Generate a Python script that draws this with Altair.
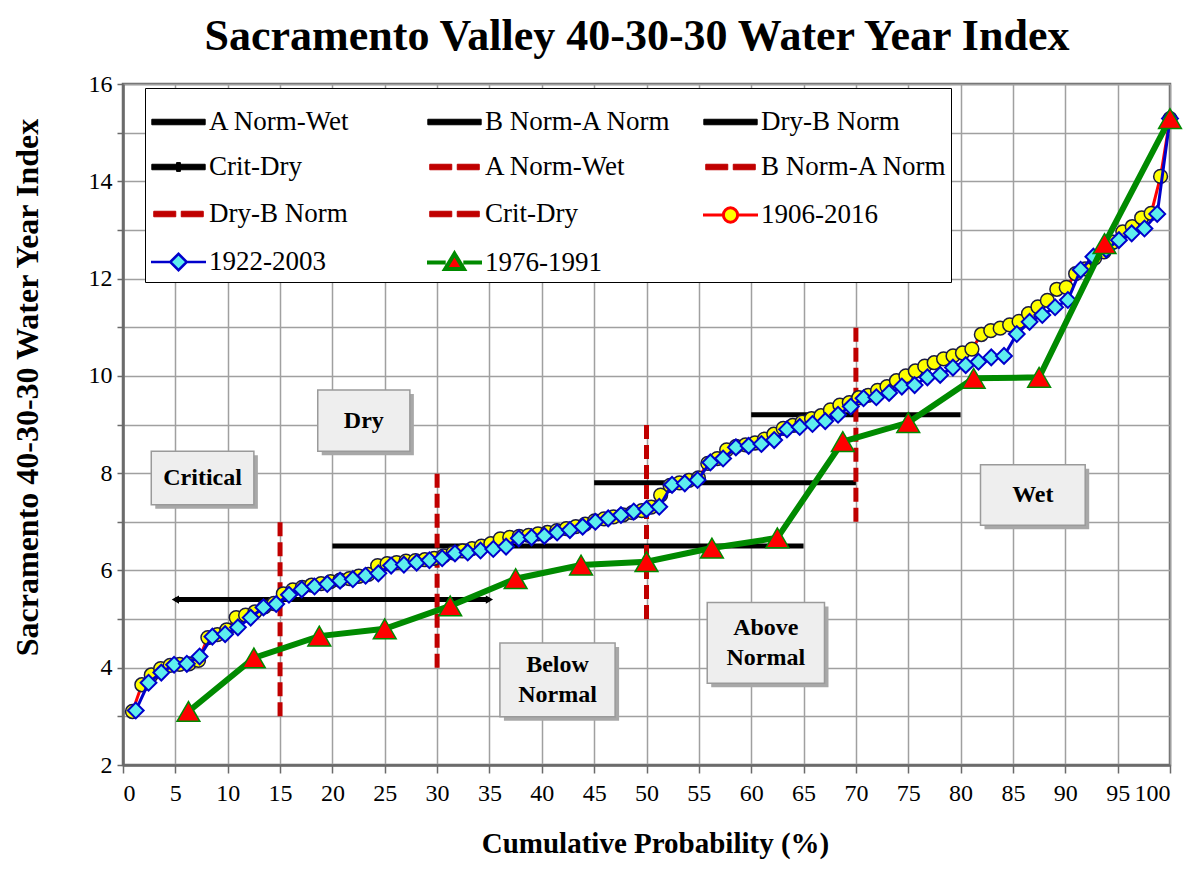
import altair as alt
import pandas as pd

# ---------------- data ----------------
chart_title = "Sacramento Valley 40-30-30 Water Year Index"
x_title = "Cumulative Probability (%)"
y_title = "Sacramento 40-30-30 Water Year Index"

# sorted Sacramento Valley index values
wyi_1906_2016 = [
    3.1, 3.65, 3.85, 3.98, 4.05, 4.07, 4.08, 4.15, 4.62, 4.68,
    4.78, 5.03, 5.08, 5.15, 5.25, 5.32, 5.52, 5.6, 5.65, 5.7,
    5.73, 5.77, 5.8, 5.83, 5.88, 5.92, 6.1, 6.14, 6.16, 6.19,
    6.2, 6.22, 6.25, 6.3, 6.36, 6.4, 6.45, 6.5, 6.55, 6.65,
    6.68, 6.7, 6.72, 6.75, 6.78, 6.82, 6.86, 6.9, 6.95, 7.02,
    7.06, 7.1, 7.14, 7.19, 7.23, 7.3, 7.55, 7.75, 7.8, 7.85,
    7.9, 8.2, 8.3, 8.48, 8.55, 8.58, 8.62, 8.7, 8.8, 8.92,
    8.98, 9.05, 9.12, 9.18, 9.3, 9.4, 9.45, 9.55, 9.6, 9.7,
    9.78, 9.9, 10.0, 10.1, 10.2, 10.27, 10.35, 10.41, 10.47, 10.55,
    10.85, 10.93, 10.98, 11.05, 11.12, 11.28, 11.42, 11.55, 11.78, 11.82,
    12.1, 12.2, 12.42, 12.55, 12.75, 12.96, 13.07, 13.25, 13.34, 14.1,
    15.29,
]
wyi_1922_2003 = [
    3.12, 3.69, 3.9, 4.06, 4.08, 4.23, 4.64, 4.69, 4.83, 5.03,
    5.24, 5.31, 5.5, 5.61, 5.67, 5.72, 5.79, 5.82, 5.89, 5.94,
    6.1, 6.12, 6.16, 6.21, 6.25, 6.35, 6.37, 6.41, 6.44, 6.49,
    6.66, 6.68, 6.71, 6.78, 6.83, 6.9, 7.0, 7.07, 7.14, 7.21,
    7.26, 7.31, 7.76, 7.79, 7.86, 8.22, 8.3, 8.53, 8.56, 8.6,
    8.68, 8.9, 8.95, 9.01, 9.07, 9.2, 9.37, 9.54, 9.56, 9.65,
    9.78, 9.81, 9.97, 10.02, 10.17, 10.22, 10.29, 10.38, 10.41, 10.86,
    11.11, 11.25, 11.41, 11.56, 12.18, 12.45, 12.6, 12.79, 12.93, 13.03,
    13.33, 15.29,
]
wyi_1976_1991 = [3.1, 4.2, 4.65, 4.8, 5.27, 5.83, 6.11, 6.18, 6.46, 6.67,
                 8.65, 9.04, 9.95, 9.97, 12.72, 15.29]

# year-type thresholds of the index (black lines)
thr_names = ["A Norm-Wet", "B Norm-A Norm", "Dry-B Norm", "Crit-Dry"]
thr_index = [9.2, 7.8, 6.5, 5.4]
thr_x_from = [60, 45, 20, 5]
thr_x_to = [80, 70, 65, 35]

# probability thresholds (red dashed lines)
prob_x = [70, 50, 30, 15]
prob_y_from = [7, 5, 4, 3]
prob_y_to = [11, 9, 8, 7]

# year-type zone labels
zone_names = ["Critical", "Dry", "Below\nNormal", "Above\nNormal", "Wet"]
zone_x = [7.6, 23.0, 41.5, 61.4, 86.9]
zone_y = [7.9, 9.08, 3.75, 4.51, 7.55]

series_names = ["1906-2016", "1922-2003", "1976-1991"]

# ---------------- styling ----------------
FONT = "Liberation Serif"
DARK_RED = "#C00000"
YELLOW = "#FFFF00"
CYAN = "#5EEEEE"
BLUE = "#0000CC"
GREEN = "#008A00"
RED = "#FF0000"

# half sizes of the zone boxes (x in %, y in index units)
box_half_w = [4.9, 4.4, 5.5, 5.6, 5.0]
box_half_h = [0.55, 0.63, 0.76, 0.83, 0.62]


def ranked(values, name):
    n = len(values)
    return pd.DataFrame({"x": [100.0 * (i + 1) / n for i in range(n)],
                         "y": values, "series": name})


d1906 = ranked(wyi_1906_2016, series_names[0])
d1922 = ranked(wyi_1922_2003, series_names[1])
d1976 = ranked(wyi_1976_1991, series_names[2])

thr_df = pd.DataFrame({"name": thr_names, "y": thr_index,
                       "x": thr_x_from, "x2": thr_x_to})
arrow_l = pd.DataFrame({"x": [thr_x_from[3]], "y": [thr_index[3]]})
arrow_r = pd.DataFrame({"x": [thr_x_to[3]], "y": [thr_index[3]]})
prob_df = pd.DataFrame({"name": thr_names, "x": prob_x,
                        "y": prob_y_from, "y2": prob_y_to})
zone_df = pd.DataFrame({"label": zone_names, "x": zone_x, "y": zone_y})
zone_df["bx"] = [c - h for c, h in zip(zone_x, box_half_w)]
zone_df["bx2"] = [c + h for c, h in zip(zone_x, box_half_w)]
zone_df["by"] = [c - h for c, h in zip(zone_y, box_half_h)]
zone_df["by2"] = [c + h for c, h in zip(zone_y, box_half_h)]
zone_df["lines"] = [len(s.split("\n")) for s in zone_names]

xscale = alt.Scale(domain=[0, 100], nice=False, zero=False)
yscale = alt.Scale(domain=[2, 16], nice=False, zero=False)

x_axis = alt.Axis(values=list(range(0, 101, 5)), title=x_title,
                  titleX=532, titleY=78, titleAlign="center",
                  titleBaseline="middle", labelPadding=8, tickSize=8,
                  titleFontSize=29)
y_axis = alt.Axis(values=list(range(2, 17)), title=y_title,
                  labelExpr="datum.value % 2 == 0 ? datum.label : ''",
                  titleX=-96, titleY=303, titleAngle=270, titleAlign="center",
                  titleBaseline="middle", tickSize=6, labelPadding=5,
                  titleFontSize=32)


def X(field="x"):
    return alt.X(f"{field}:Q", scale=xscale, axis=x_axis)


def Y(field="y"):
    return alt.Y(f"{field}:Q", scale=yscale, axis=y_axis)


# chart title (text placed above the plot area)
title_layer = alt.Chart(pd.DataFrame({"t": [chart_title]})).mark_text(
    font=FONT, fontSize=44, fontWeight="bold", color="black",
    align="center", baseline="alphabetic"
).encode(x=alt.value(514), y=alt.value(-34), text="t:N")

# zone boxes
box_shadow = alt.Chart(zone_df).mark_rect(
    fill="#A8A8A8", xOffset=4, x2Offset=4, yOffset=4, y2Offset=4
).encode(x=X("bx"), x2="bx2", y=Y("by"), y2="by2")
boxes = alt.Chart(zone_df).mark_rect(
    fill="#EEEEEE", stroke="#9A9A9A", strokeWidth=1.5
).encode(x=X("bx"), x2="bx2", y=Y("by"), y2="by2")
box_text_1 = alt.Chart(zone_df).transform_filter("datum.lines == 1").mark_text(
    font=FONT, fontSize=24, fontWeight="bold", color="black", baseline="middle"
).encode(x=X(), y=Y(), text="label:N")
box_text_2 = alt.Chart(zone_df).transform_filter("datum.lines == 2").mark_text(
    font=FONT, fontSize=24, fontWeight="bold", color="black", baseline="middle",
    lineBreak="\n", lineHeight=30, dy=-15
).encode(x=X(), y=Y(), text="label:N")

# threshold lines
thr_lines = alt.Chart(thr_df).mark_rule(
    color="black", strokeWidth=5
).encode(x=X(), x2="x2", y=Y())
arrow_left = alt.Chart(arrow_l).mark_point(
    shape="triangle-left", filled=True, color="black", size=70, opacity=1
).encode(x=X(), y=Y())
arrow_right = alt.Chart(arrow_r).mark_point(
    shape="triangle-right", filled=True, color="black", size=70, opacity=1
).encode(x=X(), y=Y())
prob_lines = alt.Chart(prob_df).mark_rule(
    color=DARK_RED, strokeWidth=5, strokeDash=[14, 6]
).encode(x=X(), y=Y(), y2="y2")

# series
l1906 = alt.Chart(d1906).mark_line(color=RED, strokeWidth=3).encode(x=X(), y=Y(), order="x:Q")
p1906 = alt.Chart(d1906).mark_point(
    shape="circle", filled=True, fill=YELLOW, stroke="#1A1A40",
    strokeWidth=1.5, size=190, opacity=1
).encode(x=X(), y=Y())
l1922 = alt.Chart(d1922).mark_line(color=BLUE, strokeWidth=3).encode(x=X(), y=Y(), order="x:Q")
p1922 = alt.Chart(d1922).mark_point(
    shape="diamond", filled=True, fill=CYAN, stroke=BLUE,
    strokeWidth=2, size=250, opacity=1
).encode(x=X(), y=Y())
l1976 = alt.Chart(d1976).mark_line(color=GREEN, strokeWidth=6).encode(x=X(), y=Y(), order="x:Q")
p1976 = alt.Chart(d1976).mark_point(
    shape="triangle-up", filled=True, fill=RED, stroke=GREEN,
    strokeWidth=1.5, size=520, opacity=1
).encode(x=X(), y=Y())

# legend (built from a layer whose rows have no position)
legend_keys = [n for n in thr_names] + [n + " " for n in thr_names] + series_names
BLACK_P = "M-0.97,-0.1L0.97,-0.1L0.97,0.1L-0.97,0.1Z"
CRIT_P = BLACK_P + "M-0.07,-0.16L0.07,-0.16L0.07,0.16L-0.07,0.16Z"
DASH_P = "M-0.9,-0.1L-0.1,-0.1L-0.1,0.1L-0.9,0.1Z M0.1,-0.1L0.9,-0.1L0.9,0.1L0.1,0.1Z"
CIRC_P = "M-1,0L-0.26,0M0.26,0L1,0M-0.26,0A0.26,0.26 0 1,1 0.26,0A0.26,0.26 0 1,1 -0.26,0Z"
DIAM_P = "M-1,0L-0.3,0M0.3,0L1,0M-0.3,0L0,-0.3L0.3,0L0,0.3Z"
TRI_P = "M-1,0L-0.32,0M0.32,0L1,0M0,-0.32L0.34,0.24L-0.34,0.24Z"
leg_shapes = [BLACK_P, BLACK_P, BLACK_P, CRIT_P, DASH_P, DASH_P, DASH_P, DASH_P,
              CIRC_P, DIAM_P, TRI_P]
leg_fill = ["black"] * 4 + [DARK_RED] * 4 + [YELLOW, CYAN, RED]
leg_stroke = ["black"] * 4 + [DARK_RED] * 4 + [RED, BLUE, GREEN]
leg_width = [1, 1, 1, 1, 1, 1, 1, 1, 3, 2.5, 4]

legend_def = alt.Legend(
    title=None, orient="none", legendX=22, legendY=4, columns=3,
    direction="horizontal",
    gridAlign="all", columnPadding=24, rowPadding=2,
    symbolSize=3025, labelFont=FONT, labelFontSize=27, labelLimit=400,
    labelColor="black", labelOffset=1, strokeColor="black",
    fillColor="white", padding=4, symbolOpacity=1,
)
legend_df = pd.DataFrame({"series": legend_keys,
                          "x": [None] * len(legend_keys),
                          "y": [None] * len(legend_keys)})
legend_layer = alt.Chart(legend_df).mark_point(filled=True).encode(
    x=X(), y=Y(),
    shape=alt.Shape("series:N", scale=alt.Scale(domain=legend_keys, range=leg_shapes),
                    legend=legend_def),
    fill=alt.Fill("series:N", scale=alt.Scale(domain=legend_keys, range=leg_fill),
                  legend=legend_def),
    stroke=alt.Stroke("series:N", scale=alt.Scale(domain=legend_keys, range=leg_stroke),
                      legend=legend_def),
    strokeWidth=alt.StrokeWidth("series:N",
                                scale=alt.Scale(type="ordinal", domain=legend_keys,
                                                range=leg_width),
                                legend=legend_def),
)

chart = alt.layer(
    box_shadow, boxes, box_text_1, box_text_2, thr_lines, arrow_left, arrow_right,
    prob_lines, l1906, p1906, l1922, p1922, l1976, p1976, legend_layer, title_layer,
).properties(
    width=1047, height=681,
    padding={"left": 115, "top": 76, "right": 16, "bottom": 98},
    autosize=alt.AutoSizeParams(type="none"),
).configure_view(
    stroke="#6A6A6A", strokeWidth=2.5
).configure_axis(
    labelFont=FONT, labelFontSize=24, labelColor="black",
    titleFont=FONT, titleFontWeight="bold", titleColor="black",
    gridColor="#A0A0A0", gridWidth=1.5, gridOpacity=1,
    domainColor="#6A6A6A", domainWidth=2.5,
    tickColor="#6A6A6A", tickWidth=1.5,
)

chart.save("out.html", embed_options={"renderer": "svg", "actions": False})
